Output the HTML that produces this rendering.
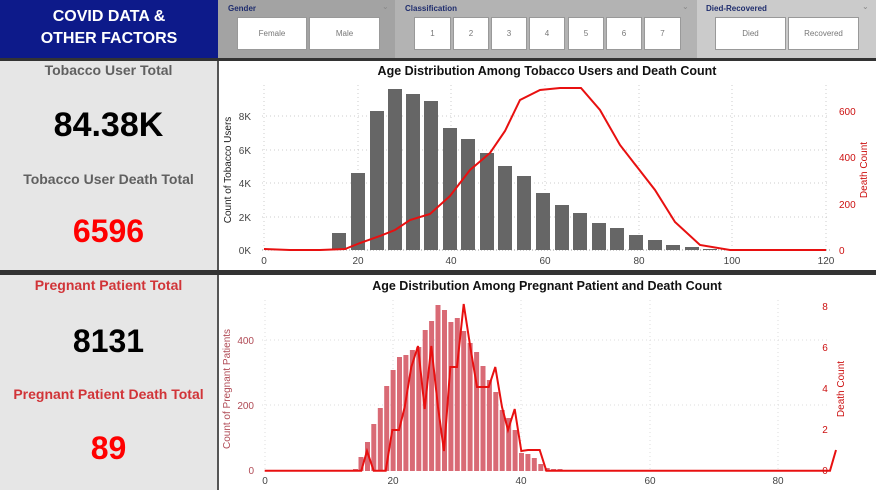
<!DOCTYPE html>
<html><head><meta charset="utf-8"><style>
body{margin:0;width:876px;height:490px;overflow:hidden;background:#fff;font-family:"Liberation Sans",Arial,sans-serif;position:relative}
.a{position:absolute}
.btn{position:absolute;top:17px;height:33px;background:#fff;border:1px solid #999;box-sizing:border-box;font-size:8px;color:#777;display:flex;align-items:center;justify-content:center}
.lbl{position:absolute;top:4px;font-size:8px;font-weight:bold;color:#1f2d6e}
.c{position:absolute;left:0;width:217px;text-align:center;font-weight:bold}
</style></head><body>
<div class="a" style="left:0;top:0;width:218px;height:58px;background:#0d1a8a;color:#fff;font-weight:bold;font-size:16px;text-align:center;line-height:22px;padding-top:6px;box-sizing:border-box">COVID DATA &amp;<br>OTHER FACTORS</div>
<div class="a" style="left:218px;top:0;width:177px;height:58px;background:#a3a3a3"></div>
<div class="a" style="left:395px;top:0;width:302px;height:58px;background:#b3b3b3"></div>
<div class="a" style="left:697px;top:0;width:179px;height:58px;background:#cbcbcb"></div>
<div class="lbl" style="left:228px">Gender</div>
<div class="lbl" style="left:405px">Classification</div>
<div class="lbl" style="left:706px">Died-Recovered</div>
<div class="a" style="left:382px;top:2px;font-size:8px;color:#888">⌄</div>
<div class="a" style="left:682px;top:2px;font-size:8px;color:#888">⌄</div>
<div class="a" style="left:862px;top:2px;font-size:8px;color:#888">⌄</div>
<div class="btn" style="left:237px;width:70px">Female</div>
<div class="btn" style="left:309px;width:71px">Male</div>
<div class="btn" style="left:414px;width:37px">1</div>
<div class="btn" style="left:453px;width:36px">2</div>
<div class="btn" style="left:491px;width:36px">3</div>
<div class="btn" style="left:529px;width:36px">4</div>
<div class="btn" style="left:568px;width:36px">5</div>
<div class="btn" style="left:606px;width:36px">6</div>
<div class="btn" style="left:644px;width:37px">7</div>
<div class="btn" style="left:715px;width:71px">Died</div>
<div class="btn" style="left:788px;width:71px">Recovered</div>
<div class="a" style="left:0;top:58px;width:876px;height:3px;background:#333"></div>
<div class="a" style="left:0;top:61px;width:217px;height:209px;background:#e6e6e6"></div>
<div class="a" style="left:217px;top:61px;width:2px;height:429px;background:#555"></div>
<div class="a" style="left:0;top:270px;width:876px;height:5px;background:#333"></div>
<div class="a" style="left:0;top:275px;width:217px;height:215px;background:#e6e6e6"></div>
<div class="c" style="top:62px;font-size:14px;color:#606060">Tobacco User Total</div>
<div class="c" style="top:106px;font-size:34px;color:#000">84.38K</div>
<div class="c" style="top:171px;font-size:14px;color:#606060">Tobacco User Death Total</div>
<div class="c" style="top:213px;font-size:32px;color:#ff0000">6596</div>
<div class="c" style="top:277px;font-size:14px;color:#d13438">Pregnant Patient Total</div>
<div class="c" style="top:323px;font-size:32px;color:#000">8131</div>
<div class="c" style="top:386px;font-size:14px;color:#d13438">Pregnant Patient Death Total</div>
<div class="c" style="top:430px;font-size:32px;color:#ff0000">89</div>
<svg class="a" style="left:219px;top:61px" width="657" height="209" viewBox="219 61 657 209" font-family="Liberation Sans,Arial,sans-serif">
<rect x="219" y="61" width="657" height="209" fill="#fff"/>
<text x="547" y="75" font-size="12.5" font-weight="bold" text-anchor="middle" fill="#111">Age Distribution Among Tobacco Users and Death Count</text>
<g stroke="#ccc" stroke-dasharray="1,3">
<line x1="262" x2="830" y1="116" y2="116"/><line x1="262" x2="830" y1="150" y2="150"/><line x1="262" x2="830" y1="183" y2="183"/><line x1="262" x2="830" y1="217" y2="217"/>
<line x1="264" x2="264" y1="85" y2="250"/><line x1="358" x2="358" y1="85" y2="250"/><line x1="451" x2="451" y1="85" y2="250"/><line x1="545" x2="545" y1="85" y2="250"/><line x1="639" x2="639" y1="85" y2="250"/><line x1="732" x2="732" y1="85" y2="250"/><line x1="826" x2="826" y1="85" y2="250"/>
</g>
<line x1="262" x2="830" y1="250" y2="250" stroke="#999" stroke-dasharray="1,2"/>
<g fill="#666">
<rect x="332" y="233" width="14" height="17"/><rect x="351" y="173" width="14" height="77"/><rect x="370" y="111" width="14" height="139"/><rect x="388" y="89" width="14" height="161"/><rect x="406" y="94" width="14" height="156"/><rect x="424" y="101" width="14" height="149"/><rect x="443" y="128" width="14" height="122"/><rect x="461" y="139" width="14" height="111"/><rect x="480" y="153" width="14" height="97"/><rect x="498" y="166" width="14" height="84"/><rect x="517" y="176" width="14" height="74"/><rect x="536" y="193" width="14" height="57"/><rect x="555" y="205" width="14" height="45"/><rect x="573" y="213" width="14" height="37"/><rect x="592" y="223" width="14" height="27"/><rect x="610" y="228" width="14" height="22"/><rect x="629" y="235" width="14" height="15"/><rect x="648" y="240" width="14" height="10"/><rect x="666" y="245" width="14" height="5"/><rect x="685" y="247" width="14" height="3"/><rect x="703" y="249" width="14" height="1"/>
</g>
<polyline fill="none" stroke="#e81010" stroke-width="2" points="264,249 290,250 320,250 345,249 360,243 380,236 395,230 410,220 430,214 450,196 470,170 490,153 505,131 520,100 540,90 560,88 581,88 600,110 620,145 655,190 675,222 700,245 730,250 826,250"/>
<g font-size="10" fill="#444" text-anchor="end">
<text x="251" y="254">0K</text><text x="251" y="221">2K</text><text x="251" y="187">4K</text><text x="251" y="154">6K</text><text x="251" y="120">8K</text></g>
<g font-size="10" fill="#444" text-anchor="middle">
<text x="264" y="264">0</text><text x="358" y="264">20</text><text x="451" y="264">40</text><text x="545" y="264">60</text><text x="639" y="264">80</text><text x="732" y="264">100</text><text x="826" y="264">120</text></g>
<g font-size="10" fill="#cc1010">
<text x="839" y="254">0</text><text x="839" y="208">200</text><text x="839" y="161">400</text><text x="839" y="115">600</text></g>
<text transform="translate(231,170) rotate(-90)" font-size="10" fill="#222" text-anchor="middle">Count of Tobacco Users</text>
<text transform="translate(867,170) rotate(-90)" font-size="10" fill="#cc1010" text-anchor="middle">Death Count</text>
</svg>
<svg class="a" style="left:219px;top:275px" width="657" height="215" viewBox="219 275 657 215" font-family="Liberation Sans,Arial,sans-serif">
<rect x="219" y="275" width="657" height="215" fill="#fff"/>
<text x="547" y="290" font-size="12.5" font-weight="bold" text-anchor="middle" fill="#111">Age Distribution Among Pregnant Patient and Death Count</text>
<g stroke="#ddd" stroke-dasharray="1,3">
<line x1="262" x2="830" y1="340" y2="340"/><line x1="262" x2="830" y1="405" y2="405"/>
<line x1="265" x2="265" y1="300" y2="470"/><line x1="393" x2="393" y1="300" y2="470"/><line x1="521" x2="521" y1="300" y2="470"/><line x1="650" x2="650" y1="300" y2="470"/><line x1="778" x2="778" y1="300" y2="470"/>
</g>
<g fill="#d96a75">
<rect x="353" y="469" width="5" height="2"/><rect x="358.5" y="457" width="5" height="14"/><rect x="365" y="442" width="5" height="29"/><rect x="371.3" y="424" width="5" height="47"/><rect x="377.8" y="408" width="5" height="63"/><rect x="384.2" y="386" width="5" height="85"/><rect x="390.6" y="370" width="5" height="101"/><rect x="397" y="357" width="5" height="114"/><rect x="403.4" y="355" width="5" height="116"/><rect x="409.9" y="350" width="5" height="121"/><rect x="416.3" y="347" width="5" height="124"/><rect x="422.7" y="330" width="5" height="141"/><rect x="429.1" y="321" width="5" height="150"/><rect x="435.5" y="305" width="5" height="166"/><rect x="442" y="310" width="5" height="161"/><rect x="448.4" y="322" width="5" height="149"/><rect x="454.8" y="318" width="5" height="153"/><rect x="461.2" y="331" width="5" height="140"/><rect x="467.6" y="343" width="5" height="128"/><rect x="474.1" y="352" width="5" height="119"/><rect x="480.5" y="366" width="5" height="105"/><rect x="486.9" y="380" width="5" height="91"/><rect x="493.3" y="392" width="5" height="79"/><rect x="499.7" y="410" width="5" height="61"/><rect x="506.2" y="418" width="5" height="53"/><rect x="512.6" y="430" width="5" height="41"/><rect x="519" y="453" width="5" height="18"/><rect x="525.4" y="454" width="5" height="17"/><rect x="531.8" y="458" width="5" height="13"/><rect x="538.3" y="464" width="5" height="7"/><rect x="544.7" y="468" width="5" height="3"/><rect x="551.1" y="469" width="5" height="2"/><rect x="557.5" y="469" width="5" height="2"/><rect x="563.9" y="470" width="5" height="1"/>
</g>
<polyline fill="none" stroke="#e81010" stroke-width="2" points="264.7,470.7 361.3,470.7 367,451 373.7,470.7 385.7,470.7 392.3,430 399,430 404.7,407 411.3,367 418,346 424.7,409 431.3,346 438,407 444,451 450.3,367 457,367 463.7,304 470.3,347 477,387 488.7,387 495.3,367 502,407 508,430 514.7,409 521.3,451 528,450 539.7,450 546.3,470.7 830,470.7 836,450"/>
<g font-size="10" fill="#b04a55" text-anchor="end">
<text x="254" y="474">0</text><text x="254" y="409">200</text><text x="254" y="344">400</text></g>
<g font-size="10" fill="#444" text-anchor="middle">
<text x="265" y="484">0</text><text x="393" y="484">20</text><text x="521" y="484">40</text><text x="650" y="484">60</text><text x="778" y="484">80</text></g>
<g font-size="10" fill="#cc1010" text-anchor="middle">
<text x="825" y="474">0</text><text x="825" y="433">2</text><text x="825" y="392">4</text><text x="825" y="351">6</text><text x="825" y="310">8</text></g>
<text transform="translate(230,389) rotate(-90)" font-size="10" fill="#b04a55" text-anchor="middle">Count of Pregnant Patients</text>
<text transform="translate(844,389) rotate(-90)" font-size="10" fill="#cc1010" text-anchor="middle">Death Count</text>
</svg>
</body></html>
